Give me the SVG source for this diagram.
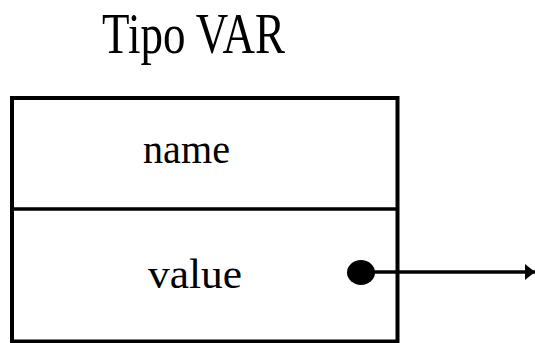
<svg xmlns="http://www.w3.org/2000/svg" width="535" height="343" viewBox="0 0 535 343">
  <style>
    .box { fill: #ffffff; stroke: #000000; stroke-width: 4; }
    .label { font-family: "Liberation Serif", "Times New Roman", serif; fill: #000000; }
    .wire { stroke: #000000; stroke-width: 3.5; fill: none; }
  </style>
  <defs>
    <marker id="arrow" viewBox="0 0 10 16" refX="10" refY="8" markerWidth="10" markerHeight="16" markerUnits="userSpaceOnUse" orient="auto">
      <path d="M0,0 L10,8 L0,16 Z" fill="#000000"/>
    </marker>
  </defs>

  <rect width="535" height="343" fill="#ffffff"/>

  <!-- type title -->
  <text id="title" class="label" x="102" y="53" font-size="58" textLength="183" lengthAdjust="spacingAndGlyphs">Tipo VAR</text>

  <!-- record VAR with its two fields -->
  <g id="var-record">
    <rect class="box" x="12" y="98" width="385.5" height="243.5"/>
    <line class="wire" x1="12" y1="209" x2="397.5" y2="209" stroke-width="4"/>
  </g>
  <g id="field-name">
    <text class="label" x="143" y="163" font-size="42" textLength="87" lengthAdjust="spacingAndGlyphs">name</text>
  </g>
  <g id="field-value">
    <text class="label" x="148" y="288" font-size="42" textLength="94" lengthAdjust="spacingAndGlyphs">value</text>
    <ellipse cx="361" cy="272.5" rx="14" ry="12.5" fill="#000000"/>
  </g>

  <!-- pointer from value -->
  <g id="connectors">
    <line class="wire" x1="361" y1="272" x2="535" y2="272" marker-end="url(#arrow)"/>
  </g>
</svg>
